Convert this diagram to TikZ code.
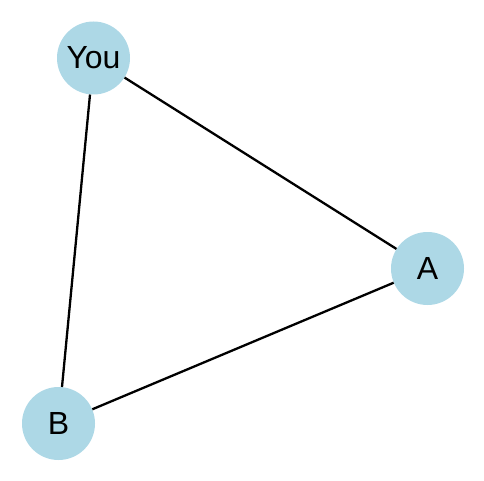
\documentclass[tikz,border=0pt]{standalone}
\usepackage{fontspec}
\setmainfont{Liberation Sans}
\definecolor{nodeblue}{HTML}{ADD8E6}
\begin{document}
\begin{tikzpicture}[x=1pt,y=-1pt,
  vertex/.style={circle,fill=nodeblue,minimum size=73pt,inner sep=0pt,font=\fontsize{32}{32}\selectfont},
  link/.style={line width=2.3pt,black}]
\useasboundingbox (0,0) rectangle (484,481);
\node[vertex] (you) at (93.5,58) {You};
\node[vertex] (a) at (427.5,268.5) {A};
\node[vertex] (b) at (58.5,423.5) {B};
\draw[link] (you) -- (a);
\draw[link] (you) -- (b);
\draw[link] (a) -- (b);
\end{tikzpicture}
\end{document}
